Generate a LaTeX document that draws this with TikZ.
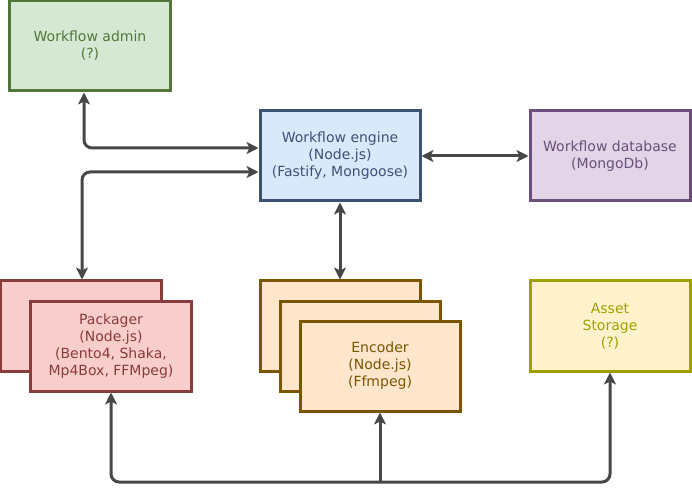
\documentclass[tikz,border=0pt]{standalone}
\usepackage{fontspec}
\setmainfont{DejaVu Sans}
\usetikzlibrary{arrows.meta,positioning}
\definecolor{admfill}{HTML}{D5E8D4}
\definecolor{admline}{HTML}{517639}
\definecolor{engfill}{HTML}{DAE8FC}
\definecolor{engline}{HTML}{3C5275}
\definecolor{dbfill}{HTML}{E1D5E7}
\definecolor{dbline}{HTML}{6B4E7B}
\definecolor{pkfill}{HTML}{F8CECC}
\definecolor{pkline}{HTML}{8A3B3B}
\definecolor{encfill}{HTML}{FFE6CC}
\definecolor{encline}{HTML}{7A5600}
\definecolor{asfill}{HTML}{FFF2CC}
\definecolor{asline}{HTML}{A0A000}
\definecolor{arrgray}{HTML}{474747}

\begin{document}
\begin{tikzpicture}[
  x=1bp, y=-1bp,
  font=\fontsize{14bp}{17bp}\selectfont,
  box/.style={draw, line width=3bp, align=center, inner sep=0pt,
    minimum width=160bp, minimum height=90bp},
  admin/.style={box, fill=admfill, draw=admline, text=admline},
  engine/.style={box, fill=engfill, draw=engline, text=engline},
  db/.style={box, fill=dbfill, draw=dbline, text=dbline},
  pack/.style={box, fill=pkfill, draw=pkline, text=pkline},
  enc/.style={box, fill=encfill, draw=encline, text=encline},
  asset/.style={box, fill=asfill, draw=asline, text=asline},
  tip/.tip={Stealth[length=12bp, width=12bp, inset=3bp]},
  arr/.style={tip-tip, line width=3bp, draw=arrgray, rounded corners=8bp},
  uparr/.style={-tip, line width=3bp, draw=arrgray}
]
\useasboundingbox (0,0) rectangle (692,492);
\node[admin] (admin) at (90,46) {Workflow admin\\(?)};
\node[engine] (engine) at (340,156) {Workflow engine\\(Node.js)\\(Fastify, Mongoose)};
\node[db] (db) at (610,156) {Workflow database\\(MongoDb)};
\node[pack] (pkback) at (81,326) {};
\node[pack] (pkfront) at ([shift={(30,20)}]pkback) {Packager\\(Node.js)\\(Bento4, Shaka,\\Mp4Box, FFMpeg)};
\node[enc] (enc1) at (340,326) {};
\node[enc] (enc2) at ([shift={(20,20)}]enc1) {};
\node[enc] (enc3) at ([shift={(20,20)}]enc2) {Encoder\\(Node.js)\\(Ffmpeg)};
\node[asset] (asset) at (610,326) {Asset\\Storage\\(?)};
\coordinate (bus) at (enc3.south |- 0,482);
\draw[arr] ([xshift=-6bp]admin.south) |- ([yshift=8bp]engine.west);
\draw[arr] ([yshift=-16bp]engine.west) -| ([xshift=1bp]pkback.north);
\draw[arr] (engine.east) -- (db.west);
\draw[arr] (engine.south) -- (enc1.north);
\draw[arr] (pkfront.south) |- (bus) -| (asset.south);
\draw[uparr] (bus) -- (enc3.south);
\end{tikzpicture}
\end{document}
